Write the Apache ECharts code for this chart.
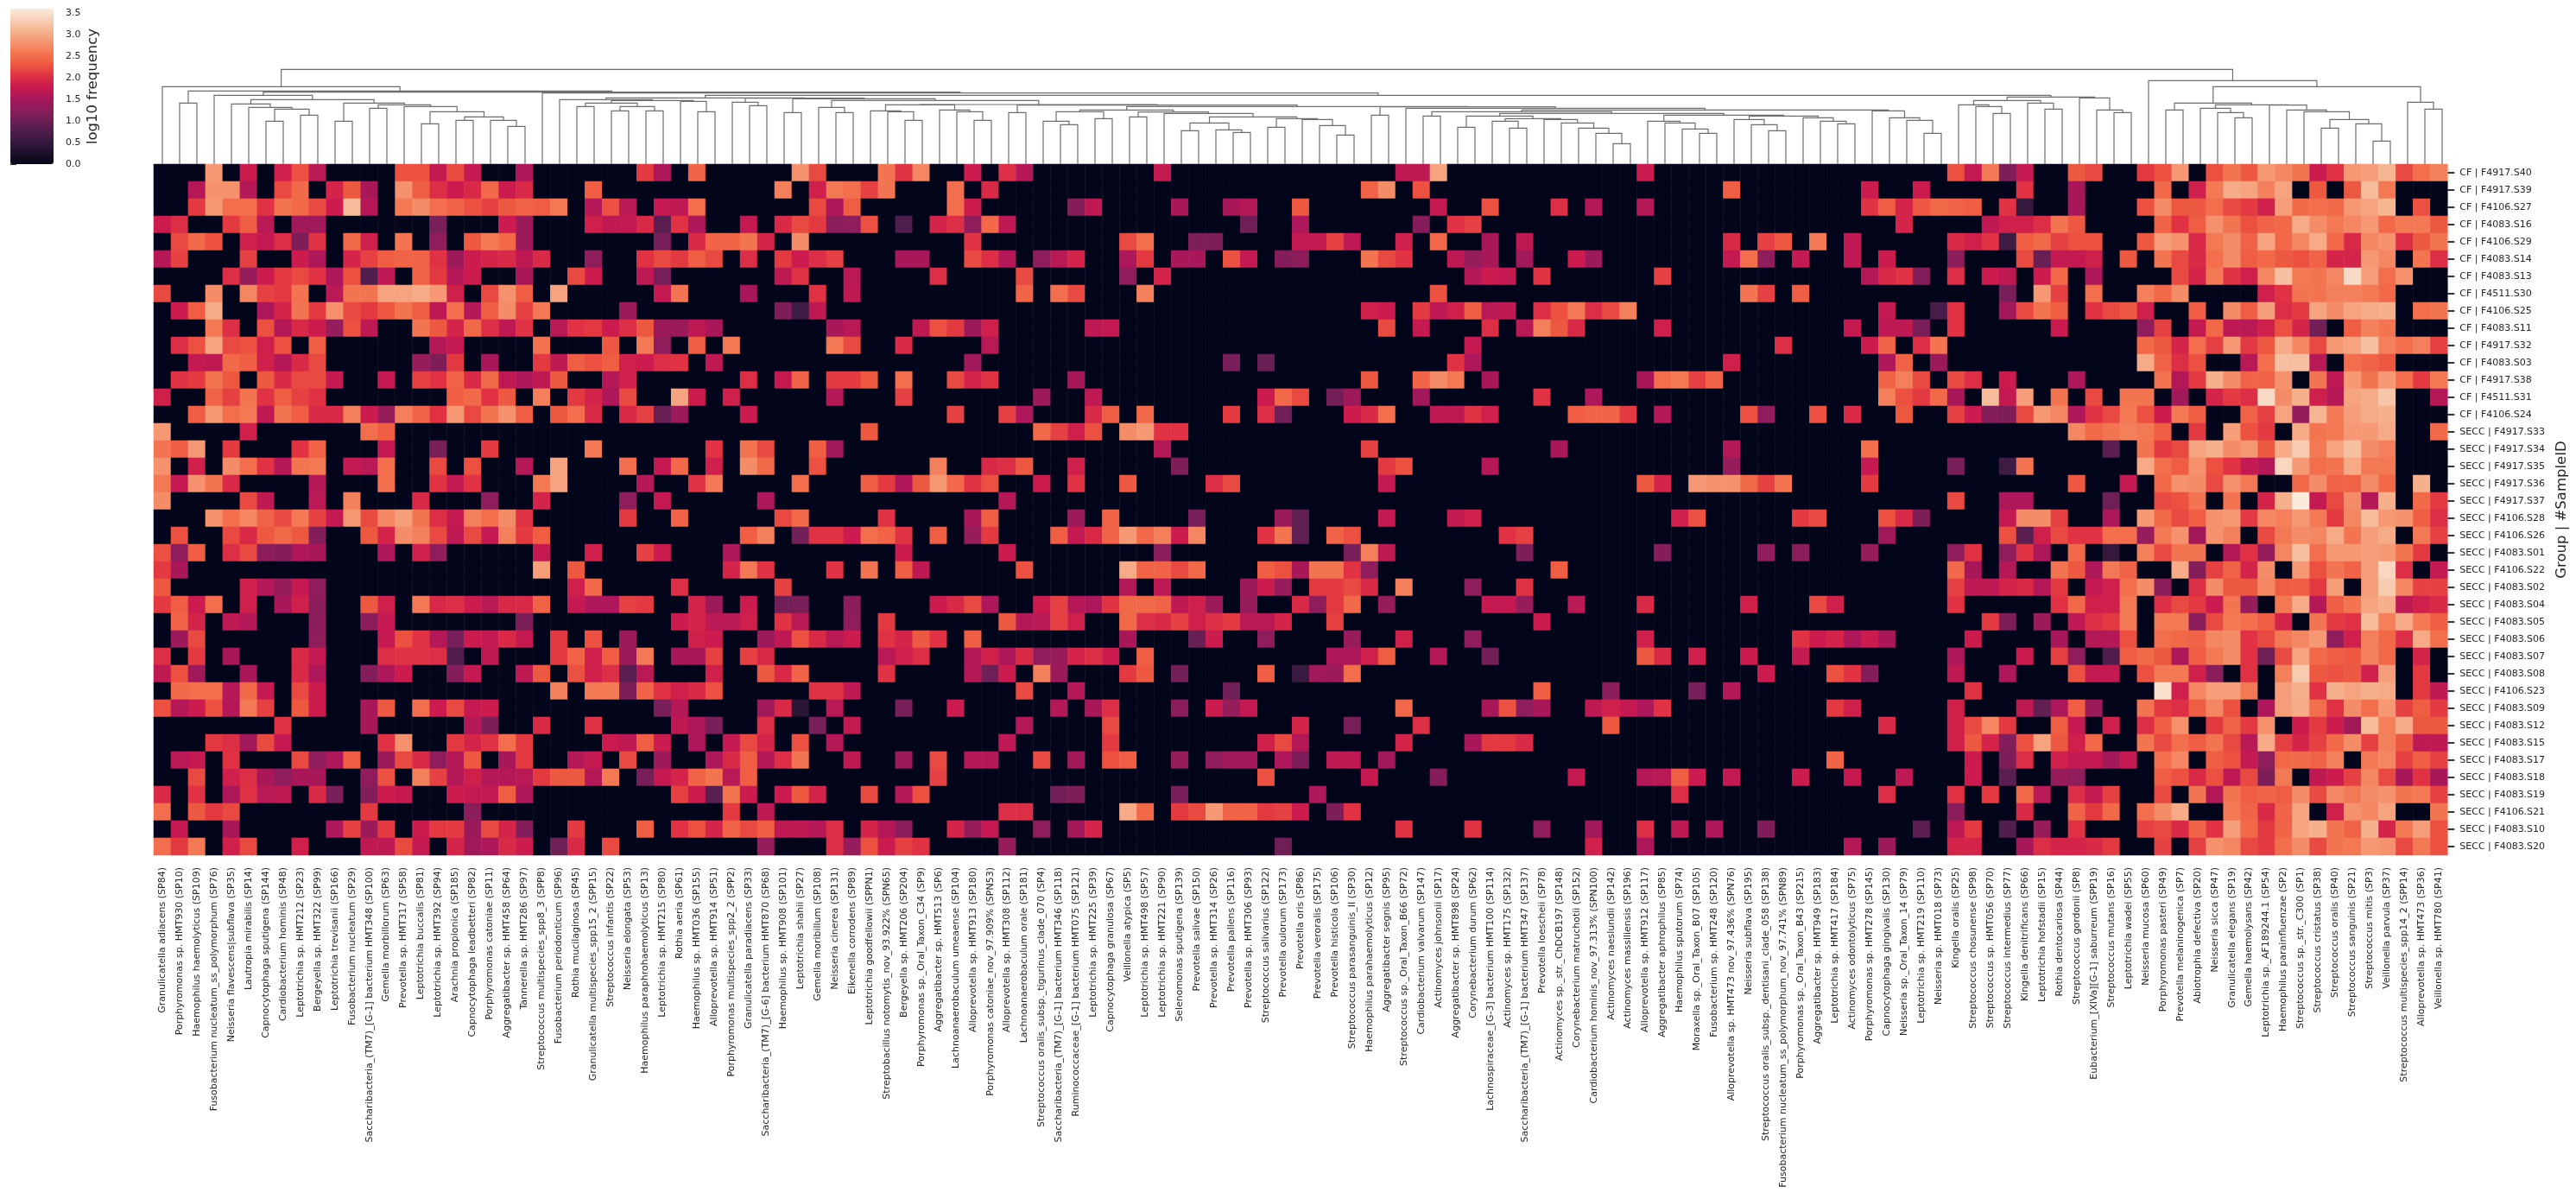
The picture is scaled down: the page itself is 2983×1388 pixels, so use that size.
<!DOCTYPE html>
<html><head><meta charset="utf-8">
<style>html,body{margin:0;padding:0;background:#fff}#c{width:2983px;height:1388px}</style>
<script src="https://cdn.jsdelivr.net/npm/echarts@6/dist/echarts.min.js"></script>
</head><body><div id="c"></div>
<script>
const sampleLabels=["CF | F4917.S40","CF | F4917.S39","CF | F4106.S27","CF | F4083.S16","CF | F4106.S29","CF | F4083.S14","CF | F4083.S13","CF | F4511.S30","CF | F4106.S25","CF | F4083.S11","CF | F4917.S32","CF | F4083.S03","CF | F4917.S38","CF | F4511.S31","CF | F4106.S24","SECC | F4917.S33","SECC | F4917.S34","SECC | F4917.S35","SECC | F4917.S36","SECC | F4917.S37","SECC | F4106.S28","SECC | F4106.S26","SECC | F4083.S01","SECC | F4106.S22","SECC | F4083.S02","SECC | F4083.S04","SECC | F4083.S05","SECC | F4083.S06","SECC | F4083.S07","SECC | F4083.S08","SECC | F4106.S23","SECC | F4083.S09","SECC | F4083.S12","SECC | F4083.S15","SECC | F4083.S17","SECC | F4083.S18","SECC | F4083.S19","SECC | F4106.S21","SECC | F4083.S10","SECC | F4083.S20"];
const taxaLabels=["Granulicatella adiacens (SP84)","Porphyromonas sp. HMT930 (SP10)","Haemophilus haemolyticus (SP109)","Fusobacterium nucleatum_ss_polymorphum (SP76)","Neisseria flavescens|subflava (SP35)","Lautropia mirabilis (SP14)","Capnocytophaga sputigena (SP144)","Cardiobacterium hominis (SP48)","Leptotrichia sp. HMT212 (SP23)","Bergeyella sp. HMT322 (SP99)","Leptotrichia trevisanii (SP166)","Fusobacterium nucleatum (SP29)","Saccharibacteria_(TM7)_[G-1] bacterium HMT348 (SP100)","Gemella morbillorum (SP63)","Prevotella sp. HMT317 (SP58)","Leptotrichia buccalis (SP81)","Leptotrichia sp. HMT392 (SP94)","Arachnia propionica (SP185)","Capnocytophaga leadbetteri (SP82)","Porphyromonas catoniae (SP11)","Aggregatibacter sp. HMT458 (SP64)","Tannerella sp. HMT286 (SP97)","Streptococcus multispecies_spp8_3 (SPP8)","Fusobacterium periodonticum (SP96)","Rothia mucilaginosa (SP45)","Granulicatella multispecies_spp15_2 (SPP15)","Streptococcus infantis (SP22)","Neisseria elongata (SP53)","Haemophilus paraphrohaemolyticus (SP13)","Leptotrichia sp. HMT215 (SP80)","Rothia aeria (SP61)","Haemophilus sp. HMT036 (SP155)","Alloprevotella sp. HMT914 (SP51)","Porphyromonas multispecies_spp2_2 (SPP2)","Granulicatella paradiacens (SP33)","Saccharibacteria_(TM7)_[G-6] bacterium HMT870 (SP68)","Haemophilus sp. HMT908 (SP101)","Leptotrichia shahii (SP27)","Gemella moribillum (SP108)","Neisseria cinerea (SP131)","Eikenella corrodens (SP89)","Leptotrichia goodfellowii (SPPN1)","Streptobacillus notomytis_nov_93.922% (SPN65)","Bergeyella sp. HMT206 (SP204)","Porphyromonas sp._Oral_Taxon_C34 (SP9)","Aggregatibacter sp. HMT513 (SP6)","Lachnoanaerobaculum umeaense (SP104)","Alloprevotella sp. HMT913 (SP180)","Porphyromonas catoniae_nov_97.909% (SPN53)","Alloprevotella sp. HMT308 (SP112)","Lachnoanaerobaculum orale (SP181)","Streptococcus oralis_subsp._tigurinus_clade_070 (SP4)","Saccharibacteria_(TM7)_[G-1] bacterium HMT346 (SP118)","Ruminococcaceae_[G-1] bacterium HMT075 (SP121)","Leptotrichia sp. HMT225 (SP39)","Capnocytophaga granulosa (SP67)","Veillonella atypica (SP5)","Leptotrichia sp. HMT498 (SP57)","Leptotrichia sp. HMT221 (SP90)","Selenomonas sputigena (SP139)","Prevotella salivae (SP150)","Prevotella sp. HMT314 (SP26)","Prevotella pallens (SP116)","Prevotella sp. HMT306 (SP93)","Streptococcus salivarius (SP122)","Prevotella oulorum (SP173)","Prevotella oris (SP86)","Prevotella veroralis (SP175)","Prevotella histicola (SP106)","Streptococcus parasanguinis_II (SP30)","Haemophilus parahaemolyticus (SP12)","Aggregatibacter segnis (SP95)","Streptococcus sp._Oral_Taxon_B66 (SP72)","Cardiobacterium valvarum (SP147)","Actinomyces johnsonii (SP17)","Aggregatibacter sp. HMT898 (SP24)","Corynebacterium durum (SP62)","Lachnospiraceae_[G-3] bacterium HMT100 (SP114)","Actinomyces sp. HMT175 (SP132)","Saccharibacteria_(TM7)_[G-1] bacterium HMT347 (SP137)","Prevotella loescheii (SP78)","Actinomyces sp._str._ChDCB197 (SP148)","Corynebacterium matruchotii (SP152)","Cardiobacterium hominis_nov_97.313% (SPN100)","Actinomyces naeslundii (SP142)","Actinomyces massiliensis (SP196)","Alloprevotella sp. HMT912 (SP117)","Aggregatibacter aphrophilus (SP85)","Haemophilus sputorum (SP74)","Moraxella sp._Oral_Taxon_B07 (SP105)","Fusobacterium sp. HMT248 (SP120)","Alloprevotella sp. HMT473 nov_97.436% (SPN76)","Neisseria subflava (SP195)","Streptococcus oralis_subsp._dentisani_clade_058 (SP138)","Fusobacterium nucleatum_ss_polymorphum_nov_97.741% (SPN89)","Porphyromonas sp._Oral_Taxon_B43 (SP215)","Aggregatibacter sp. HMT949 (SP183)","Leptotrichia sp. HMT417 (SP184)","Actinomyces odontolyticus (SP75)","Porphyromonas sp. HMT278 (SP145)","Capnocytophaga gingivalis (SP130)","Neisseria sp._Oral_Taxon_14 (SP79)","Leptotrichia sp. HMT219 (SP110)","Neisseria sp. HMT018 (SP73)","Kingella oralis (SP25)","Streptococcus chosunense (SP98)","Streptococcus sp. HMT056 (SP70)","Streptococcus intermedius (SP77)","Kingella denitrificans (SP66)","Leptotrichia hofstadii (SP15)","Rothia dentocariosa (SP44)","Streptococcus gordonii (SP8)","Eubacterium_[XIVa][G-1] saburreum (SPP19)","Streptococcus mutans (SP16)","Leptotrichia wadei (SP55)","Neisseria mucosa (SP60)","Porphyromonas pasteri (SP49)","Prevotella melaninogenica (SP7)","Abiotrophia defectiva (SP20)","Neisseria sicca (SP47)","Granulicatella elegans (SP19)","Gemella haemolysans (SP42)","Leptotrichia sp._AF189244.1 (SP54)","Haemophilus parainfluenzae (SP2)","Streptococcus sp._str._C300 (SP1)","Streptococcus cristatus (SP38)","Streptococcus oralis (SP40)","Streptococcus sanguinis (SP21)","Streptococcus mitis (SP3)","Veillonella parvula (SP37)","Streptococcus multispecies_spp14_2 (SPP14)","Alloprevotella sp. HMT473 (SP36)","Veillonella sp. HMT780 (SP41)"];
// Each row: flat list of taxon index, log10 frequency, taxon index, log10 frequency ... (absent taxa are 0)
const row00=[3,2.85,5,1.8,7,1.85,8,2.25,9,1.65,14,2.25,15,2.25,16,1.75,17,2.2,18,1.75,21,1.55,28,2.1,29,1.55,31,2.4,37,2.8,38,2.2,42,2.55,43,2.05,44,2.7,47,1.8,49,2,50,1.6,58,1.75,72,1.7,73,1.7,74,2.95,86,1.8,104,2.25,105,1.75,106,2.6,107,1.15,108,1.75,111,2.3,112,2.2,115,2.1,116,2.25,117,2.85,119,2.25,120,2.55,121,2.3,122,2.85,123,2.7,124,2.55,125,1.8,126,2.05,127,2.85,128,2.9,129,3.1,130,2.2,131,2.5,132,2.65];
const row01=[2,1.6,3,2.8,4,2.8,5,1.6,7,2.2,8,2.45,10,1.9,11,2.3,12,1.5,14,2.8,15,2.35,16,2,17,1.8,18,1.95,19,2.45,20,1.8,21,1.95,25,2.35,36,2.65,38,1.85,39,2.6,40,2.5,41,2.15,42,2.55,46,2.5,48,1.95,70,2.4,71,2.75,73,2.25,91,2.35,99,1.8,102,1.8,108,2.05,111,1.5,116,2.45,118,1.85,119,2.6,120,3,121,2.95,122,2.65,123,2.95,125,2.3,127,2.3,128,3.15,129,2.6];
const row02=[2,2.1,3,2.85,4,2.5,5,2.5,6,2.05,7,2.55,8,2.45,9,2.2,10,1.8,11,3.15,12,1.6,14,2.6,15,2.75,16,2.5,17,2.4,18,2.25,19,2.15,20,2.3,21,2.4,22,2.35,23,2.6,25,1.6,26,2.25,27,1.65,29,1.75,30,1.7,31,2.5,38,2.2,39,1.55,40,2.35,46,2.5,47,1.8,53,1.2,54,1.7,59,1.5,62,1.5,63,1.6,66,2.3,74,1.75,77,2.25,81,2,83,1.6,86,1.6,99,2.05,100,2.35,101,1.9,102,2.3,103,2.45,104,2.4,105,2.35,107,2.05,108,.5,111,1.5,115,2.25,116,2.75,117,2.3,118,2.3,119,2.5,120,2.2,121,2.1,122,1.85,123,2.9,124,2.45,125,2.5,126,2.45,127,2.85,128,2.95,129,3.1,131,2.25];
const row03=[0,1.8,1,2,4,2.1,5,2.35,6,1.65,8,1.45,9,1.45,16,1.1,20,1.8,21,1.4,25,1.85,26,1.7,27,1.75,28,1.95,29,.85,30,2.05,31,1.55,34,1.75,36,1.95,37,2.2,38,2.1,39,1.25,40,1.3,41,2.25,43,.75,45,1.9,46,2,47,1.3,48,2.45,49,1.7,63,1,66,1.55,73,1.2,75,2.05,76,2.15,101,1.9,106,1.7,107,1.85,108,1.85,109,2,110,2.55,111,2.3,116,2.4,117,2.05,118,2.35,119,2.8,120,2.55,121,2.25,122,2.4,123,2.45,124,3,125,2.75,126,2.6,127,2.7,128,2.85,129,2.45,130,2.6,131,2.6,132,2.3];
const row04=[1,2.2,2,2.45,3,2.25,5,1.85,6,1.75,7,2,8,1.15,9,2.05,11,2.45,12,1.85,14,2.55,16,1.3,18,2.3,19,2.6,20,2.45,21,1.4,29,1.1,31,1.95,32,2.4,33,2.4,34,2.55,35,1.9,37,2.75,47,2.05,56,2.2,57,2.5,60,1.15,61,1.15,66,1.75,67,1.75,68,2.15,69,1.7,72,1.85,74,2.45,77,1.5,79,1.7,91,1.95,93,2.15,94,2.3,96,2.6,98,1.7,104,1.95,105,1.85,106,2.05,107,.6,108,2.35,109,2.45,110,2.15,111,2.25,112,2.25,115,2.3,116,2.9,117,2.8,118,1.95,119,2.6,120,2.75,121,2.4,122,2.95,123,2.45,124,2.7,125,3,126,2.45,127,1.95,128,2.7,129,2.8,130,2,131,2.3,132,2.55];
const row05=[0,1.6,1,2.15,5,2.15,8,1.8,9,1.55,11,1.9,12,2.15,13,2.35,14,2.4,15,2.4,16,2.05,17,1.4,18,1.8,19,1.9,20,1.95,21,1.7,22,1.95,25,1.3,28,2.05,29,2.2,30,2.1,31,2.35,32,2.2,34,2,36,2.1,37,1.8,38,2,39,2.15,43,1.5,44,1.5,47,2.2,48,2,49,1.6,51,1.3,52,1.65,53,1.9,56,1.55,57,2.1,59,1.5,60,1.5,62,2.25,63,1.75,65,1.2,66,1.25,70,2.55,71,2.2,72,2.05,75,1.7,76,1.35,77,1.5,79,1.45,82,1.8,83,1.4,91,1.75,92,2.5,93,1.3,95,1.75,98,1.7,100,1.8,104,1.25,108,2.2,109,.95,110,1.75,111,1.75,112,1.85,114,2.3,116,2.55,117,2.2,118,1.95,119,2.5,120,2.75,121,2.35,122,2.45,123,2.3,124,2.25,125,2.4,126,1.9,127,1.9,128,2.85,129,2.7,131,2.55,132,2];
const row06=[4,2,5,1.35,6,1.8,7,2.1,8,2.2,9,2.05,10,1.55,11,2.25,12,.75,13,1.7,15,2.4,16,2.1,17,1.6,18,1.8,21,1.5,24,2.2,25,1.8,28,1.7,29,1.1,36,1.7,37,2.05,40,1.65,45,2,50,2.2,56,1.3,58,1.9,76,1.6,77,1.8,78,1.75,80,2.05,87,2.15,99,1.6,100,1.95,101,2.05,102,1.2,104,2,106,1.8,107,1.7,109,1.8,110,2.45,112,1.55,117,2.2,118,1.9,119,2.6,120,2.05,121,1.85,122,2.7,123,3.2,124,2.6,125,2.55,126,2.7,127,3.45,128,2.9,129,2.5,130,2.8];
const row07=[0,2.2,3,2.75,5,2.7,6,2.15,7,2.1,8,2.55,10,1.65,11,2.55,12,2.55,13,2.95,14,2.95,15,3,16,2.85,17,1.85,19,2.2,20,2.8,21,2.35,23,2.95,29,1.75,30,2.55,34,1.5,38,2.05,40,1.7,50,2.4,52,2.5,53,2.2,57,2.65,74,2.25,92,2.55,93,2.15,95,2.35,107,1.1,109,2.85,110,2.15,112,2.5,115,2.65,116,2.45,117,2.75,122,1.85,123,2.05,124,2.55,125,2.55,126,2.65,127,2.65,128,2.6,129,2.45];
const row08=[1,1.8,2,2.35,3,3,6,1.55,7,1.9,8,2.55,9,2.1,10,2.8,11,2.2,12,2.1,13,2.3,14,2.55,15,2.35,16,1.7,17,2.5,18,1.6,19,2.35,20,2.75,21,2.15,22,2.6,27,1.4,36,1.15,37,.6,38,1.7,70,1.85,71,1.8,73,2.1,74,1.7,75,1.85,76,2.35,77,1.65,78,1.7,80,2,81,2.25,82,2.6,83,2,84,2.2,85,2.65,100,1.75,103,.7,104,2.05,107,1.45,108,2.2,109,2.55,110,2.35,112,2.05,113,2.2,114,2.3,115,1.85,118,2.35,120,2.75,121,2.35,122,2.9,123,2,124,2.1,125,2.95,126,2.75,127,2.95,128,3,129,3.05,131,2.5,132,2.55];
const row09=[3,2.6,4,2,6,2.25,7,1.6,8,1.95,9,1.8,10,1.35,11,2.25,12,1.7,15,2.55,16,2.3,17,1.9,18,2.45,19,2,20,1.7,21,2.05,23,1.65,24,2.05,25,2.1,26,1.8,27,2,28,2.3,29,1.4,30,1.4,31,1.7,32,1.5,39,1.5,40,1.65,44,1.7,45,2.25,46,2.1,47,1.4,48,1.85,54,1.7,55,1.75,71,2.2,73,1.75,77,2,79,1.65,80,2.65,81,2.3,82,1.95,87,1.85,98,1.75,100,1.7,101,1.7,102,1.1,104,2.05,110,1.8,115,1.3,116,2.15,118,1.75,119,2.45,120,1.7,121,1.65,122,1.85,123,2.25,124,1.9,125,1.05,127,2.35,128,2.65,129,2.55];
const row10=[1,2,2,2.25,3,2.95,4,2.2,5,2.25,6,1.85,7,2.25,9,2.35,16,1.6,17,1.75,22,2.55,26,2.3,28,2.6,29,1.3,31,2.35,33,2.6,39,2.6,40,2.2,43,1.95,48,1.65,76,1.75,94,2,99,1.8,100,2.4,102,2,103,2.55,115,2.45,116,2.3,117,1.9,118,2.5,119,2.15,120,2.85,121,2.1,122,2.3,123,3,124,2.7,125,2.2,126,2.85,127,2.95,128,3.2,129,2.65,130,2.5,131,2.65,132,2.15];
const row11=[2,1.75,3,1.7,4,2.45,5,2.35,6,1.85,7,1.6,8,1.95,9,2.2,15,1.35,16,1.15,17,2.1,19,1.5,22,2.1,23,1.7,24,2.35,25,2.25,26,2.35,27,1.85,28,1.8,29,2,30,2.05,32,1.7,47,1.45,62,1.1,64,.95,75,2.05,76,1.55,91,1.85,100,1.55,101,2.4,103,1.4,115,3,116,2.4,117,2,118,2.25,121,1.65,122,2.5,123,3.2,124,3.2,125,1.65,127,2.5,128,2.4,129,2.3];
const row12=[1,2.05,2,2.1,3,2.55,4,2.3,6,2.3,7,1.95,8,2.2,9,2.2,10,1.75,13,1.75,15,2.15,16,2.05,17,2.4,18,1.95,19,2.45,20,1.7,21,1.55,22,1.7,23,2.3,26,1.6,27,1.85,34,2,36,1.75,37,2.4,39,2.1,40,2.1,41,2.3,43,2.5,46,2.2,47,1.9,48,2.05,53,1.5,70,2.3,73,2.4,74,2.75,75,2.6,77,1.5,86,1.5,87,2.5,88,2.6,89,2.15,90,2.4,100,2.4,101,2.65,102,2.2,104,2.2,105,2,107,1.8,111,1.55,116,2.55,117,1.6,118,2.1,119,3.05,120,2.75,121,2.4,122,2.4,123,2.8,125,2.55,126,1.7,127,2.85,128,2.55,129,2.85,130,2.5,131,2.1,132,2.6];
const row13=[0,1.85,3,2.4,4,2.15,5,2.55,6,2.05,7,2.35,8,2.15,9,2.05,17,2.35,18,2.45,19,2.05,20,2.3,22,2.65,24,2.1,25,1.9,26,1.55,27,2.2,30,2.95,31,1.8,33,1.85,39,1.6,43,2.15,51,1.4,54,1.7,64,1.8,65,2.45,66,2.2,68,1.05,69,1.4,73,1.45,80,2.05,83,1.55,100,2.65,101,2.25,102,2.1,103,2.45,104,1.5,106,3.15,107,1.75,108,2.9,110,2.55,112,2.2,114,2.55,115,2.55,117,1.45,119,1.9,120,2.1,121,2,122,3.45,123,2.75,124,3.05,125,1.85,126,1.6,127,2.95,128,3,129,3.25,132,1.6];
const row14=[2,2.35,3,2.85,4,2.5,5,2.6,6,1.7,7,2.55,8,2.35,9,1.95,10,1.95,11,2.65,12,1.8,13,1.35,14,2.65,15,2.4,16,2.05,17,2.85,18,2.2,19,2.55,20,2.8,21,2.35,23,2.3,24,2.5,25,1.95,27,1.95,28,2.15,29,.95,30,1.4,34,1.8,46,2.15,49,2.15,50,1.55,54,1.95,55,2.35,57,2.45,62,2.1,64,2,65,1.05,69,1.8,70,1.95,71,2.5,74,1.7,75,1.7,76,2.05,77,1.85,82,2.35,83,2.4,84,2.4,85,2.1,87,1.6,92,2.25,93,1.3,96,2.25,98,1.95,101,2.3,104,2.15,105,1.8,106,1.2,107,1.15,108,2.2,109,2.85,110,2.7,111,1.55,112,2.05,113,2.2,114,2.6,115,2.25,116,1.8,117,2.6,118,2.35,121,2.4,122,2.15,123,2.95,124,1.35,125,3.1,126,2.6,127,2.9,128,3,129,3.05];
const row15=[0,2.85,5,1.85,12,2.5,13,2.35,41,2.3,51,2.45,52,2.15,53,1.85,54,2.25,56,2.75,57,2.85,58,2.05,59,2.05,111,2.7,112,2.45,113,2.55,114,2.65,115,2.6,116,2.35,118,2.1,120,2.9,121,2.25,122,2.1,124,3,125,2.55,126,2.6,127,2.85,128,2.85,129,3,132,2.45];
const row16=[0,2.55,1,2.35,2,2.85,4,2.1,8,2.05,9,2.4,13,1.75,16,1.1,19,2.1,25,2.6,32,2.05,34,2.55,35,2.2,38,2.35,39,1.45,58,1.6,70,2.15,81,1.5,91,1.6,99,2.5,113,.85,115,2.55,116,2.1,117,2.2,118,2.95,119,3.05,120,2.75,121,2.85,122,2.3,123,3,124,3.3,125,2.6,126,2.95,127,3.2,128,2.75,129,2.65];
const row17=[0,2.8,2,1.85,4,2.75,5,2.5,6,2.05,7,1.6,8,2.55,9,2.6,11,1.75,12,1.65,13,2.5,16,2.2,18,2.25,21,1.6,23,2.95,27,2.5,29,1.75,30,2.45,32,1.85,34,2.75,35,2.45,38,2.25,45,2.65,48,1.95,49,2,50,2.3,53,1.85,59,1.15,71,2.1,72,2.25,77,1.6,91,1.35,99,1.75,104,1.1,107,.6,108,2.55,115,3,116,2.5,117,2.35,118,2.8,119,2.25,120,2.05,121,1.75,122,1.6,123,3.4,124,2.85,125,2.5,126,2.55,127,3,128,2.6,129,2.6];
const row18=[0,2.6,1,1.75,2,2.8,3,2.55,4,1.95,9,1.6,13,2.5,16,2.05,17,1.75,18,2.05,22,2.6,23,2.95,28,1.6,31,2.05,32,2.6,37,2.5,41,2.35,42,2.1,43,1.55,44,2.3,45,2.85,46,2.45,47,2.05,48,2.25,51,1.8,53,2.05,56,2.3,61,2,62,2.2,71,1.75,86,2.3,87,1.9,89,2.85,90,2.8,91,2.8,92,2.45,93,2.15,94,2.55,99,2.1,111,2.3,114,1.75,116,2.45,117,2.8,118,2.75,119,2.2,120,2.8,121,2.6,124,2.45,125,2.75,126,2.4,127,2.4,128,2.75,129,2.45,131,3.05];
const row19=[0,2.75,5,2.2,6,1.7,9,1.65,11,2.65,15,1.95,19,1.3,22,1.9,27,1.3,29,1.75,35,1.55,49,1.6,104,2.2,107,1.55,108,1.55,113,1,116,2.2,117,2.25,118,2.55,120,2.55,122,1.9,123,3.05,124,3.6,125,1.75,126,2.2,127,2.75,128,1.6,129,3.05,131,2.45,132,2.1];
const row20=[3,2.8,4,2.5,5,2.7,6,2.4,7,2.2,8,2.6,9,2.15,10,1.75,11,2.85,12,2.2,13,2.7,14,2.9,15,2.55,16,2,17,1.75,18,2.65,19,2.5,20,2.75,21,2.05,27,2.1,30,2.4,36,2.2,37,2.45,42,2.05,47,1.5,48,2.35,53,1.4,55,2.4,60,1.1,65,1.4,66,.9,71,1.75,75,1.75,76,1.85,88,1.85,89,2.25,95,2.1,96,2.2,100,2.25,101,1.95,102,1.15,107,1.75,108,2.75,109,2.75,110,2.15,113,1.55,115,2.85,116,2.45,117,2.2,118,2.35,119,2.8,120,2.85,121,2.1,122,2.7,123,2.65,124,2.85,125,2.6,126,2.1,127,2.7,128,3.15,129,2.85,130,2.8,131,2.35,132,2];
const row21=[1,2.25,4,2.2,5,1.95,6,2.3,7,2.45,8,2.3,9,1.2,12,2.3,13,1.9,14,2.75,15,2.65,16,2.2,17,1.7,18,2.2,19,1.75,20,2.65,21,2.1,22,2.35,34,2.35,35,2.65,37,1.05,38,2.05,39,2.05,40,1.8,41,2.5,42,2.4,43,2.05,45,2.35,47,1.35,48,2.1,52,2.35,53,1.75,54,1.95,55,2.4,56,2.85,57,2.45,58,2.65,59,1.8,60,2.7,64,2.05,65,2.55,66,.9,68,2.4,69,2.25,78,2.05,79,2.15,100,1.45,107,2.25,108,.85,109,1.85,110,2.2,111,2.05,112,2.05,113,2.5,114,2.5,115,1.35,116,2.6,117,2.8,118,1.45,119,2.8,120,2.65,122,2.2,123,2.6,124,2.75,125,2.7,126,3,127,2.55,128,2.9,129,3,131,2.6,132,2.15];
const row22=[0,2.25,1,1.3,2,2.35,4,2,5,2.2,6,1.25,7,1.2,8,1.55,9,1.5,13,1.55,15,1.85,16,1.3,22,1.75,25,1.85,28,2.15,29,1.8,33,1.55,43,1.8,49,1.8,58,1.25,69,1.1,70,2.65,71,1.7,79,1.15,87,1.2,93,1.3,95,1.25,99,1.35,104,1.3,105,2.05,107,1.3,108,2.05,109,1.55,111,2.45,113,.5,115,2.65,116,2.2,117,2.55,118,2.55,120,1.6,121,2.05,122,1.35,123,2.7,124,3.2,125,2.5,126,2.85,127,2.85,128,2.9,129,2.85,130,2.55,131,2.1];
const row23=[0,2.1,1,1.5,22,2.9,24,2.3,33,1.9,34,2.6,35,2.05,39,2.05,41,2.55,43,2.35,44,1.7,50,2.25,56,3,57,2.4,58,2.4,59,2.2,60,2.45,64,2.35,65,2.25,66,1.5,67,2.55,68,2.55,69,2.05,70,1.3,81,2.35,104,2.45,105,1.5,107,1.6,110,2.55,111,2.3,112,1.55,113,2.6,114,2.4,117,3,118,1.2,119,2.15,120,2.4,121,1.9,122,2.75,124,2.85,125,2.25,126,2.55,127,2.4,128,2.9,129,3.4,130,2,132,1.75];
const row24=[0,2.3,5,1.85,6,1.6,7,1.35,8,1.75,9,1.3,24,1.85,25,2.45,30,2,36,2.15,56,1.6,58,1.7,63,1.4,64,1.8,65,1.35,67,2.1,68,2.1,69,2.2,70,1.95,72,2.65,76,1.3,79,2.05,104,2.15,105,1.7,106,1.7,107,1.9,108,1.95,109,1.6,110,2.1,112,1.75,113,1.85,114,2.5,115,2.75,116,1.25,118,2,119,2.75,120,2.3,121,2.3,122,2.7,123,2.35,124,2.35,125,2.1,126,2.9,128,2.9,129,3.3,130,2.7,131,2.15,132,2.15];
const row25=[0,2.1,1,2.35,2,1.8,3,2.5,5,1.85,7,1.5,8,1.85,9,1.25,12,2.3,13,1.85,15,2.6,16,1.95,17,2,18,1.8,19,1.65,20,1.95,21,1.95,22,2.4,24,1.75,25,1.55,26,1.55,27,2.15,28,2.1,31,1.9,32,1.4,34,1.8,36,1.05,37,1.1,40,1.25,45,1.8,46,1.95,47,2.2,48,1.55,51,1.8,52,2.15,53,1.6,54,1.55,55,2.05,56,2.45,57,2.45,58,2.4,59,1.7,60,1.85,61,1.4,63,1.35,66,1.95,67,1.3,68,2.1,69,2.45,71,1.35,77,1.75,78,1.75,79,1.35,82,1.65,86,1.95,92,1.85,96,2.2,97,1.85,104,2.05,110,2.05,111,2.45,112,1.85,113,1.85,114,2.6,116,2,117,2.2,118,2.1,119,1.8,120,2.55,121,1.35,123,2.6,124,3,125,1.6,126,2.35,127,2.55,128,2.95,129,3.05,130,1.7,131,1.85,132,1.95];
const row26=[1,2.4,2,1.9,4,1.7,5,1.6,9,1.25,12,1.25,13,1.75,21,1.15,30,1.8,31,1.9,32,1.65,33,1.65,34,1.85,36,2.05,37,1.65,40,1.3,42,2.1,49,2.3,50,1.6,51,1.65,52,2.15,53,1.85,56,2.45,57,2,58,1.95,59,2.15,60,1.85,61,2,62,2.1,63,1.65,64,1.65,65,1.9,68,2.15,80,1.8,106,2.1,107,1.15,109,1.4,111,1.7,112,2,113,2.1,114,2.6,116,2.6,117,2.6,118,1.25,119,2.2,120,2.6,121,2.5,122,2.35,123,1.9,125,2.55,126,2.1,127,2.05,128,3.15,129,2.65,130,3,131,2.6,132,2.35];
const row27=[1,1.4,2,2.2,9,1.3,13,1.75,14,2.25,15,2.05,16,1.6,17,1.1,18,1.8,19,1.75,20,1.95,21,1.75,23,2.1,25,2.25,27,1.4,31,1.85,32,1.8,35,1.4,36,1.7,37,2.25,38,1.95,39,1.65,40,1.8,42,2.05,43,1.9,44,2.3,45,2.05,47,2.35,56,1.5,60,.95,61,1.8,64,1.3,69,1.35,72,1.85,76,1.3,86,1.85,95,2.05,96,1.8,97,1.9,98,1.55,99,1.8,100,1.5,105,1.8,110,1.5,112,1.6,113,1.6,114,2.25,116,2.5,117,2.45,118,2.4,119,2.7,120,2.75,121,2.05,122,2.2,123,2.6,124,2.7,125,2.85,126,1.3,127,1.85,128,2.65,129,2.45,130,2,131,3,132,2.5];
const row28=[0,2,2,2.1,4,1.5,8,1.95,9,1.75,13,2,14,2.05,15,2.05,16,2,17,.75,19,1.7,23,2.1,24,2.4,25,1.85,26,2.35,27,1.4,28,2.6,30,1.5,31,1.5,32,2.15,34,2.15,35,1.95,42,1.65,43,1.85,44,2,47,1.6,48,1.85,49,1.55,50,1.95,51,1.3,52,1.35,53,1.9,54,2,55,1.8,57,2.35,68,1.55,69,1.55,70,1.85,71,2.35,74,1.6,77,1.05,86,2.3,87,1.95,89,1.85,92,1.8,95,1.75,104,1.55,108,1.8,110,2.15,111,1.3,113,.75,114,2.35,115,2.45,116,2.3,117,1.55,118,2.35,119,2.6,120,2.75,121,2.05,122,1,123,2.2,124,2.95,125,2.45,126,2.35,127,2.3,128,2.65,129,2.45,131,1.9];
const row29=[0,1.7,1,2.25,2,1.45,5,1.5,8,1.95,9,1.55,12,1.2,13,1.55,14,1.8,17,1.2,18,1.75,21,1.7,22,2.3,24,2.25,25,1.85,26,2,27,.85,28,1.65,32,1.85,35,2.3,36,1.95,37,2.4,42,2.05,47,1.6,48,1,49,1.8,51,2.65,52,1.4,56,2.1,57,2.3,59,1.05,64,2.35,66,.55,67,1.45,68,1.4,69,2.5,93,1.8,97,2.25,98,2.05,99,1.2,104,1.7,107,1.55,111,2.25,112,1.75,113,1.75,115,2.25,116,2.6,117,2.6,118,1.85,119,1.25,121,2.05,123,2.65,124,3.3,125,2.3,126,2.25,127,2.3,128,1.85,129,2.9,131,2.1];
const row30=[1,2.45,2,2.5,3,2.5,4,1.6,5,2.45,6,1.75,8,2.2,9,1.8,23,2.65,25,2.6,26,2.6,27,1.15,28,2.4,29,2.05,30,1.85,31,1.95,32,2.25,38,2.05,39,2.05,40,1.7,50,2.2,53,1.6,62,1,80,2.35,84,1.25,89,1.1,91,1.6,105,2.05,116,3.5,117,1.85,118,2.7,119,2.9,120,2.9,121,2.6,123,2.9,124,3.05,125,2.05,126,3.05,127,2.95,128,3.05,129,3,131,2.1,132,1.7];
const row31=[0,2.25,1,1.6,2,1.8,3,2.25,4,1.6,5,2.6,6,2.15,8,2.3,9,1.8,12,1.5,13,2.3,15,2.5,16,1.8,17,2.2,18,1.75,19,1.8,29,1.1,30,1.6,35,1.45,36,1.95,37,.4,39,1.65,43,1.1,46,1.8,52,1.6,54,1.5,55,2,59,1.25,61,1.8,62,1.35,63,1.75,72,2.45,77,1.5,78,2.25,79,1.3,80,1.5,83,1.7,84,1.85,85,1.75,86,1.55,87,2.05,97,2.1,98,1.85,104,1.85,108,1.7,109,.9,110,1.55,111,2.35,112,1.4,115,2.55,116,2.1,117,2,118,2.35,119,2.7,120,2.25,122,1.55,123,2.9,124,3,125,2.5,126,2.05,127,2.75,128,2.5,129,2.85,130,2.15,131,2.35,132,2.1];
const row32=[7,2.05,12,1.5,18,1.6,19,1.15,22,1.95,25,2.05,30,1.7,31,1.55,32,1.1,35,2,38,1.1,40,1.75,50,1.6,55,2.2,66,1.9,69,1.1,73,2,84,2.3,100,1.95,104,1.85,105,2.2,106,2.7,107,2.1,110,2.35,111,1.75,113,1.85,115,2,116,2.35,117,2.8,119,2.1,120,2.4,121,2.1,122,2.8,124,1.8,125,2.1,126,1.8,127,1.45,128,3.15,129,2.65,130,3,131,2.3,132,2.3];
const row33=[3,2.1,4,2,5,1.45,6,2.2,7,1.75,13,2.05,14,2.8,17,2.1,18,1.9,19,2.05,20,2.5,21,2.1,26,1.8,27,1.7,28,2.35,29,1.8,31,1.55,33,1.75,34,2.2,35,1.9,37,2.25,39,1.6,49,1.7,55,2.1,64,1.85,65,2.2,66,1.6,72,1.9,76,1.5,77,2.1,78,2.1,79,1.95,104,1.85,105,2.3,106,1.9,107,1.2,108,2.25,109,2.95,110,2.3,111,1.85,112,2.45,115,2.55,116,2.2,117,2.5,118,2.35,119,2.55,120,2.2,121,1.65,122,3,123,2.15,124,1.9,125,2.15,126,2.45,127,2.75,128,2.15,129,2.65,130,2.3,131,1.7,132,1.7];
const row34=[1,1.65,2,1.75,4,2.05,8,2.2,9,1.3,10,1.55,11,2.35,13,1.4,14,2.2,15,1.95,16,1.3,17,1.6,18,2.3,20,1.5,21,2.1,24,1.6,25,1.75,27,2.2,29,1.4,32,1.55,33,1.95,34,2.35,35,1.6,36,2,37,2.55,40,1.7,43,1.4,45,2.2,47,1.6,48,1.6,51,2.2,53,1.45,55,2.25,56,2.35,59,1.35,61,1.3,62,1.45,63,1.45,65,1.55,66,1.15,68,1.7,69,1.7,71,1.45,97,2.4,105,1.8,107,1.15,108,2,110,1.85,111,1.75,112,1.75,113,1.45,114,1.75,116,2.5,117,2.7,119,2.35,120,2.25,121,1.75,122,1.3,123,2.45,124,2.45,125,2.4,126,2.65,128,2.6,129,2.7,130,2.15,131,2.35,132,2.15];
const row35=[2,2.2,4,1.85,5,2,6,1.5,7,1.3,8,1.5,9,1.5,12,1.3,13,2.25,15,2.65,16,2.15,17,1.6,18,1.85,19,1.6,20,1.6,21,1.65,22,2.1,23,2.3,24,2.3,25,1.6,26,2.6,28,1.1,29,1.75,30,1.9,31,2.4,32,2.55,33,1.65,34,2.35,45,2.15,64,2.25,70,1.75,74,1.2,82,1.75,86,1.6,87,1.65,88,2.35,89,1.8,91,1.75,95,1.8,98,1.75,101,1.7,105,1.8,107,.85,110,1.35,111,1.3,116,2.35,117,2.25,118,1.95,119,2.25,120,1.7,121,2.2,122,1.15,123,2.6,125,1.7,126,1.8,127,2.15,128,2.7,129,2.2,130,1.5,131,2.05,132,1.5];
const row36=[0,1.95,2,2.05,4,1.55,5,2.05,6,1.65,7,1.7,9,1.95,10,1.1,12,1.2,13,1.8,14,1.75,17,1.8,18,1.75,19,1.75,20,2.35,21,1.55,30,2.15,31,1.8,32,.85,33,2.55,34,1.8,36,1.8,37,2.3,38,1.9,41,2.2,43,1.6,44,2.25,52,1.05,53,1.15,59,1.1,67,1.55,88,2,100,2,104,2.05,106,2.1,108,2.45,109,1.65,111,2,112,1.75,113,2.15,116,2.2,118,2.55,119,1.6,120,2.55,121,2.35,122,2.4,123,2.35,124,2.75,125,2.2,126,2.7,127,2.6,128,2.75,129,2.8,130,2.55,131,2.6,132,2.15];
const row37=[0,2.5,2,2.3,3,2.1,4,2.2,12,2.1,18,1.25,33,2.1,35,1.7,49,2,50,2,56,3,57,2.45,59,2.1,60,2.2,61,2.85,62,2.4,63,2.4,64,2.1,65,2.15,66,1.8,68,1.15,69,2.05,104,1.25,108,1.95,111,2.4,112,2.1,113,2.45,115,2.5,116,2.75,117,3,120,2.6,121,2.4,122,1.95,123,2.4,124,2.95,126,1.85,127,2.8,128,2.7,129,2.95,132,2.55];
const row38=[1,1.75,4,1.5,10,1.55,11,2.15,12,1.4,13,2.1,15,1.8,16,2.1,17,2.1,18,1.4,19,2.2,20,1.9,21,1.2,24,2.1,28,2.35,30,2.05,31,2.25,32,1.9,33,2.4,34,2.2,35,2.35,36,1.7,37,1.7,38,1.6,39,2,41,1.9,42,1.6,43,1.25,46,1.9,47,1.35,48,1.75,51,1.3,53,1.45,54,1.9,72,2.05,76,2.05,80,1.3,83,1.45,86,2,88,1.7,90,1.55,93,1.15,102,.85,104,1.7,105,2.1,107,.75,109,1.35,111,2.05,115,2.15,116,2.2,117,1.95,118,2.4,119,2.05,120,2.9,121,2.45,122,2.1,123,2.4,124,2.95,125,3.05,126,2.55,127,2.4,128,3.05,129,1.9,130,2.6,131,2.9,132,2.25];
const row39=[0,2.5,1,2.1,2,2.6,4,1.85,5,2.2,8,1.85,12,1.7,13,1.7,14,2.2,15,1.75,17,1.9,18,1.45,19,1.55,20,1.95,21,1.8,23,1,24,1.95,26,2.2,35,1.35,39,2,40,1.35,41,2.25,42,1.8,43,2.15,44,2.05,49,1.35,65,1,83,1.85,86,1.55,98,1.6,100,1.4,104,1.9,105,1.9,108,1.5,109,2,110,1.9,111,1.9,112,1.95,113,2.1,116,2.15,118,2.15,119,2.8,120,2.7,121,2.2,122,2.1,123,2.5,124,2.75,125,2.2,126,2.55,127,2.6,128,2.85,129,2.8,130,2.2,131,2.6,132,2.25];
const sampleRows=[row00,row01,row02,row03,row04,row05,row06,row07,row08,row09,row10,row11,row12,row13,row14,row15,row16,row17,row18,row19,row20,row21,row22,row23,row24,row25,row26,row27,row28,row29,row30,row31,row32,row33,row34,row35,row36,row37,row38,row39];
// Dendrogram: node = [height, left, right]; a bare number is a leaf (taxon index)
const treeA=[79.7,3,[74.7,[69.7,4,[65.7,5,[63.7,[49.7,6,7],[56.7,8,9]]]],[70.7,[49.7,10,11],[68.7,[64.7,12,13],[66.7,14,[60.7,[46.7,15,16],[54.7,[50.7,17,18],[50.7,19,[43.7,20,21]]]]]]]]];
const n84=[58.7,[55.7,[42.7,75,76],[52.7,[49.7,77,[41.7,78,79]],[51.7,80,[47.7,81,[41.7,82,[35.7,83,[23.7,84,85]]]]]]],[56.7,[49.7,86,[47.7,87,[40.7,88,[35.7,89,90]]]],[55.7,[51.7,91,[45.7,92,[38.7,93,94]]],[53.7,95,[49.7,96,[46.7,97,98]]]]]];
const n89=[62.7,[60.7,[55.7,73,74],n84],[61.7,99,[53.7,100,[50.7,101,[35.7,102,103]]]]];
const n76=[66.3,[56.7,70,71],[64.7,72,n89]];
const n59=[60.3,[54.7,56,57],[58.7,58,[54.7,[47.7,[38.7,59,60],[39.7,61,[36.7,62,63]]],[52.7,[42.7,64,65],[51.7,66,[44.7,67,[33.7,68,69]]]]]]];
const n56=[62.7,[60.7,[49.7,51,[45.7,52,53]],[52.7,54,55]],n59];
const n58=[68.3,[59.7,49,50],[66.7,n56,n76]];
const n51=[69,[68.7,[61.7,41,[60.7,42,[50.7,43,44]]],[62.7,45,[60.7,46,[50.7,47,48]]]],n58];
const n45=[73.7,[65.7,38,[59.7,39,40]],n51];
const n37=[76.3,[71.7,33,[67.7,34,35]],[75.7,[59.7,36,37],n45]];
const n26=[74.7,23,[73.7,[70.7,[66.7,24,25],[66.7,[61.7,26,27],[61.7,28,29]]],[72.7,30,[60.7,31,32]]]];
const treeB=[76.7,n26,n37];
const treeC=[77.7,[73.7,[68.7,104,[66.7,105,[58.7,106,107]]],[70.7,108,[63.7,109,110]]],[76.7,111,[62.7,112,[59.7,113,114]]]];
const treeR=[96.7,115,[89.7,[70.7,[62.7,116,117],[68.7,[64.7,118,[59.7,119,[53.7,120,121]]],[68.3,122,[62.7,123,[60.7,124,[51.7,[41.7,125,126],[46.7,127,[26.7,128,129]]]]]]]],[71.7,130,[63.7,131,132]]]];
const treeL=[89.7,0,[84.7,[70.7,1,2],[83.3,treeA,[82.3,22,[79.7,treeB,treeC]]]]];
const dendroRoot=[109.7,treeL,treeR];
const colorTicks=[0,0.5,1,1.5,2,2.5,3,3.5];
const rocket=["#03051a","#1c1029","#35193e","#511e4d","#701f57","#8e1d5b","#ad1759","#cb1b4f","#e13342","#ee5a41","#f37651","#f59571","#f6b48f","#f7d0b6","#faebdd"];

const cells=[];
sampleRows.forEach((row,r)=>{
  const v=new Array(taxaLabels.length).fill(0);
  for(let i=0;i<row.length;i+=2) v[row[i]]=row[i+1];
  v.forEach((val,c)=>cells.push([c,r,val]));
});
const links=[];
function walk(n){
  if(typeof n==='number') return [n+0.5,0];
  const a=walk(n[1]),b=walk(n[2]);
  links.push([a[0],a[1],b[0],b[1],n[0]]);
  return [(a[0]+b[0])/2,n[0]];
}
walk(dendroRoot);

const font='"DejaVu Sans"';
const chart=echarts.init(document.getElementById('c'),null,{renderer:'canvas',width:2983,height:1388});
chart.setOption({
  animation:false,
  backgroundColor:'#ffffff',
  textStyle:{fontFamily:font},
  grid:[
    {left:178,top:190,width:2660,height:800,containLabel:false},
    {left:178,top:70,width:2660,height:120,containLabel:false},
    {left:12,top:10,width:50,height:180,containLabel:false}
  ],
  xAxis:[
    {gridIndex:0,type:'category',data:taxaLabels,position:'bottom',axisLine:{show:false},axisTick:{show:false},splitLine:{show:false},
     axisLabel:{interval:0,rotate:90,fontSize:11,fontFamily:font,color:'#262626',margin:14,hideOverlap:false}},
    {gridIndex:1,type:'value',min:0,max:133,show:false},
    {gridIndex:2,type:'value',min:0,max:1,show:false}
  ],
  yAxis:[
    {gridIndex:0,type:'category',data:sampleLabels,inverse:true,position:'right',axisLine:{show:false},
     axisTick:{show:true,alignWithLabel:true,length:8,lineStyle:{color:'#333333',width:2}},splitLine:{show:false},
     axisLabel:{interval:0,fontSize:11,fontFamily:font,color:'#262626',margin:14,hideOverlap:false},
     name:'Group | #SampleID',nameLocation:'middle',nameRotate:90,nameGap:115,nameTextStyle:{fontSize:16.5,fontFamily:font,color:'#262626'}},
    {gridIndex:1,type:'value',min:0,max:120,show:false},
    {gridIndex:2,type:'value',min:0,max:3.6,position:'right',axisLine:{show:false},splitLine:{show:false},
     axisTick:{show:true,length:7,customValues:colorTicks,lineStyle:{color:'#333333',width:2}},
     axisLabel:{fontSize:11,fontFamily:font,color:'#262626',margin:14,customValues:colorTicks,formatter:v=>Number(v).toFixed(1)},
     name:'log10 frequency',nameLocation:'middle',nameRotate:90,nameGap:37,nameTextStyle:{fontSize:16.5,fontFamily:font,color:'#262626'}}
  ],
  visualMap:{type:'continuous',seriesIndex:0,min:0,max:3.6,left:12,top:10,itemWidth:50,itemHeight:180,padding:0,
    showLabel:false,calculable:false,hoverLink:false,realtime:false,inRange:{color:rocket}},
  series:[
    {type:'heatmap',xAxisIndex:0,yAxisIndex:0,data:cells,progressive:0,silent:true,itemStyle:{borderWidth:0}},
    {type:'custom',xAxisIndex:1,yAxisIndex:1,data:links,silent:true,clip:false,progressive:0,
     renderItem:(p,api)=>{
       const a0=api.coord([api.value(0),api.value(1)]),a1=api.coord([api.value(0),api.value(4)]),
             b1=api.coord([api.value(2),api.value(4)]),b0=api.coord([api.value(2),api.value(3)]);
       return {type:'polyline',shape:{points:[a0,a1,b1,b0]},style:{fill:null,stroke:'#6e6e6e',lineWidth:1.2}};
     }}
  ]
});
</script></body></html>
